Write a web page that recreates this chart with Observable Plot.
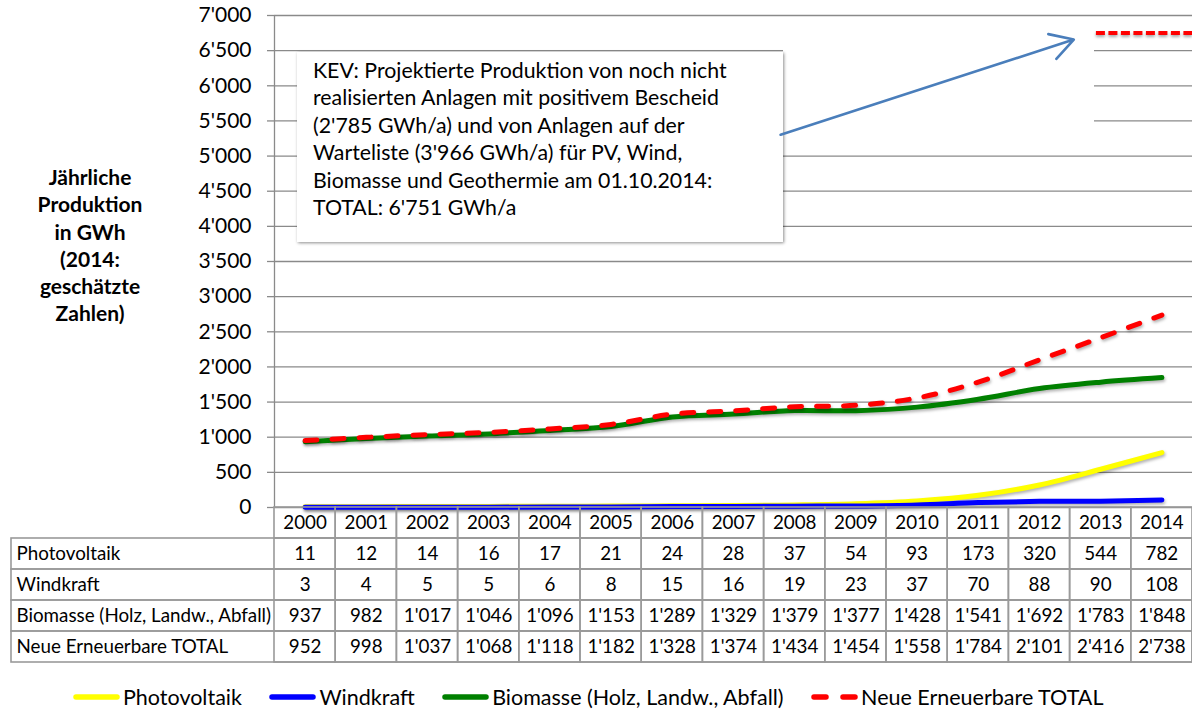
<!DOCTYPE html>
<html><head><meta charset="utf-8">
<script src="https://cdn.jsdelivr.net/npm/d3@7"></script>
<script src="https://cdn.jsdelivr.net/npm/@observablehq/plot@0.6"></script>
<style>
body{margin:0;background:#fff;font-family:Lato,"Noto Sans",sans-serif;color:#000;}
#wrap{position:relative;width:1192px;height:710px;overflow:hidden;background:#fff;}
#wrap > svg, #wrap > div{position:absolute;left:0;top:0;}
#wrap svg [aria-label="line"] path{filter:drop-shadow(1px 2px 1.5px rgba(0,0,0,0.3));}
#wrap svg .kev line{filter:drop-shadow(0px 2px 1.5px rgba(0,0,0,0.35));}
#ylabel{width:180px;text-align:center;font-weight:bold;font-size:21px;line-height:27.3px;}
#note{background:#fff;box-shadow:1px 1px 3px rgba(0,0,0,0.45);font-size:21.3px;line-height:27.4px;box-sizing:border-box;}
#legend{display:flex;align-items:center;font-size:21.5px;white-space:nowrap;}
#legend .item{display:flex;align-items:center;margin-right:27.5px;}
#legend svg{margin-right:3px;}
</style></head><body><div id="wrap"></div>
<script>
// ---- data ----
const years = [2000,2001,2002,2003,2004,2005,2006,2007,2008,2009,2010,2011,2012,2013,2014];
const photovoltaik = [11,12,14,16,17,21,24,28,37,54,93,173,320,544,782];
const windkraft = [3,4,5,5,6,8,15,16,19,23,37,70,88,90,108];
const biomasse = [937,982,1017,1046,1096,1153,1289,1329,1379,1377,1428,1541,1692,1783,1848];
const total = [952,998,1037,1068,1118,1182,1328,1374,1434,1454,1558,1784,2101,2416,2738];
const seriesNames = ["Photovoltaik","Windkraft","Biomasse (Holz, Landw., Abfall)","Neue Erneuerbare TOTAL"];
const seriesColors = ["#ffff00","#0000ff","#008000","#ff0000"];
const yTicks = [0,500,1000,1500,2000,2500,3000,3500,4000,4500,5000,5500,6000,6500,7000];
const kevTotal = 6751;
const yLabelLines = ["Jährliche","Produktion","in GWh","(2014:","geschätzte","Zahlen)"];
const noteLines = [
  "KEV: Projektierte Produktion von noch nicht",
  "realisierten Anlagen mit positivem Bescheid",
  "(2'785 GWh/a) und von Anlagen auf der",
  "Warteliste (3'966 GWh/a) für PV, Wind,",
  "Biomasse und Geothermie am 01.10.2014:",
  "TOTAL: 6'751 GWh/a"
];

// ---- helpers ----
const fmt = d3.formatLocale({decimal:".", thousands:"'", grouping:[3], currency:["",""]}).format(",");
const seriesValues = [photovoltaik, windkraft, biomasse, total];
const long = seriesNames.flatMap((name, s) => years.map((yr, i) => ({series:name, year:yr, value:seriesValues[s][i]})));
const xDomain = [years[0] - 0.5, years[years.length-1] + 0.5];
const W = 1192, H = 710;
const common = {width:W, height:H, marginTop:15, marginBottom:203, marginLeft:274, marginRight:0};
const wrap = document.getElementById("wrap");

// ---- main chart ----
const chart = Plot.plot({
  ...common,
  style:{fontFamily:"Lato, sans-serif", fontSize:"21px", background:"transparent", color:"#000"},
  x:{domain:xDomain, axis:null},
  y:{domain:[0,7000], axis:null},
  color:{domain:seriesNames, range:seriesColors},
  marks:[
    Plot.ruleY(yTicks, {stroke:"#8a8a8a", strokeWidth:1.3}),
    Plot.axisY({ticks:yTicks, tickSize:7, tickPadding:16, tickFormat:fmt, stroke:"#8a8a8a", strokeWidth:1.3, fill:"#000", label:null}),
    Plot.ruleX([xDomain[0]], {y1:0, y2:7000, stroke:"#8a8a8a", strokeWidth:1.3}),
    Plot.line(long.filter(d => d.series !== seriesNames[3]), {x:"year", y:"value", z:"series", stroke:"series", strokeWidth:5, curve:"catmull-rom", strokeLinecap:"round", strokeLinejoin:"round"}),
    Plot.line(long.filter(d => d.series === seriesNames[3]), {x:"year", y:"value", stroke:"series", strokeWidth:5, curve:"catmull-rom", strokeLinecap:"round", strokeDasharray:"12,15"}),
    Plot.ruleY([kevTotal], {x1:2012.93, x2:xDomain[1], stroke:seriesColors[3], strokeWidth:4, strokeDasharray:"9,3.5", className:"kev"})
  ]
});
wrap.appendChild(chart);

// white area behind arrow (hides grid lines like the reference)
const cover = document.createElement("div");
cover.style.cssText = "left:783px;top:44px;width:311px;height:82px;background:#fff;";
wrap.appendChild(cover);

// annotation box
const note = document.createElement("div");
note.id = "note";
note.style.cssText = "left:297px;top:52px;width:486px;height:190px;padding:5px 0 0 16px;";
note.innerHTML = noteLines.map(l => `<div>${l}</div>`).join("");
wrap.appendChild(note);

// arrow overlay
const arrowPlot = Plot.plot({
  ...common,
  style:{background:"transparent"},
  x:{domain:xDomain, axis:null},
  y:{domain:[0,7000], axis:null},
  marks:[
    Plot.arrow([{x1:2007.77, y1:5303, x2:2012.56, y2:6658}], {x1:"x1", y1:"y1", x2:"x2", y2:"y2", stroke:"#4a7ebb", strokeWidth:2.6, headLength:15})
  ]
});
arrowPlot.style.pointerEvents = "none";
wrap.appendChild(arrowPlot);

// ---- data table ----
const rowKeys = ["Jahr", ...seriesNames];
const cells = [
  ...years.map(yr => ({year:yr, row:"Jahr", text:String(yr)})),
  ...long.map(d => ({year:d.year, row:d.series, text:fmt(d.value)}))
];
const table = Plot.plot({
  width:W, height:H, marginTop:507, marginBottom:48, marginLeft:11, marginRight:0,
  style:{fontFamily:"Lato, sans-serif", fontSize:"18.8px", background:"transparent", color:"#000"},
  x:{domain:xDomain, range:[274, W], axis:null},
  y:{type:"band", domain:rowKeys, padding:0, axis:null},
  marks:[
    Plot.rect(seriesNames, {y:d => d, stroke:"#9a9a9a", strokeWidth:1.6, fill:"none"}),
    Plot.rect(cells, {x1:d => d.year - 0.5, x2:d => d.year + 0.5, y:"row", stroke:"#9a9a9a", strokeWidth:1.6, fill:"none"}),
    Plot.text(cells, {x:"year", y:"row", text:"text", fill:"#000"}),
    Plot.text(seriesNames, {y:d => d, frameAnchor:"left", textAnchor:"start", dx:5, text:d => d, fill:"#000"})
  ]
});
wrap.appendChild(table);

// y label
const ylab = document.createElement("div");
ylab.id = "ylabel";
ylab.style.top = "163px";
ylab.innerHTML = yLabelLines.map(l => `<div>${l}</div>`).join("");
wrap.appendChild(ylab);

// legend
const legend = document.createElement("div");
legend.id = "legend";
legend.style.cssText = "left:73px;top:683px;height:28px;";
legend.innerHTML = seriesNames.map((n, i) => {
  const sw = i === 3
    ? `<svg width="47" height="10"><line x1="3" y1="5" x2="44" y2="5" stroke="${seriesColors[i]}" stroke-width="5.5" stroke-linecap="round" stroke-dasharray="12,17"/></svg>`
    : `<svg width="47" height="10"><line x1="3" y1="5" x2="44" y2="5" stroke="${seriesColors[i]}" stroke-width="5.5" stroke-linecap="round"/></svg>`;
  return `<div class="item">${sw}<span>${n}</span></div>`;
}).join("");
wrap.appendChild(legend);
</script></body></html>
